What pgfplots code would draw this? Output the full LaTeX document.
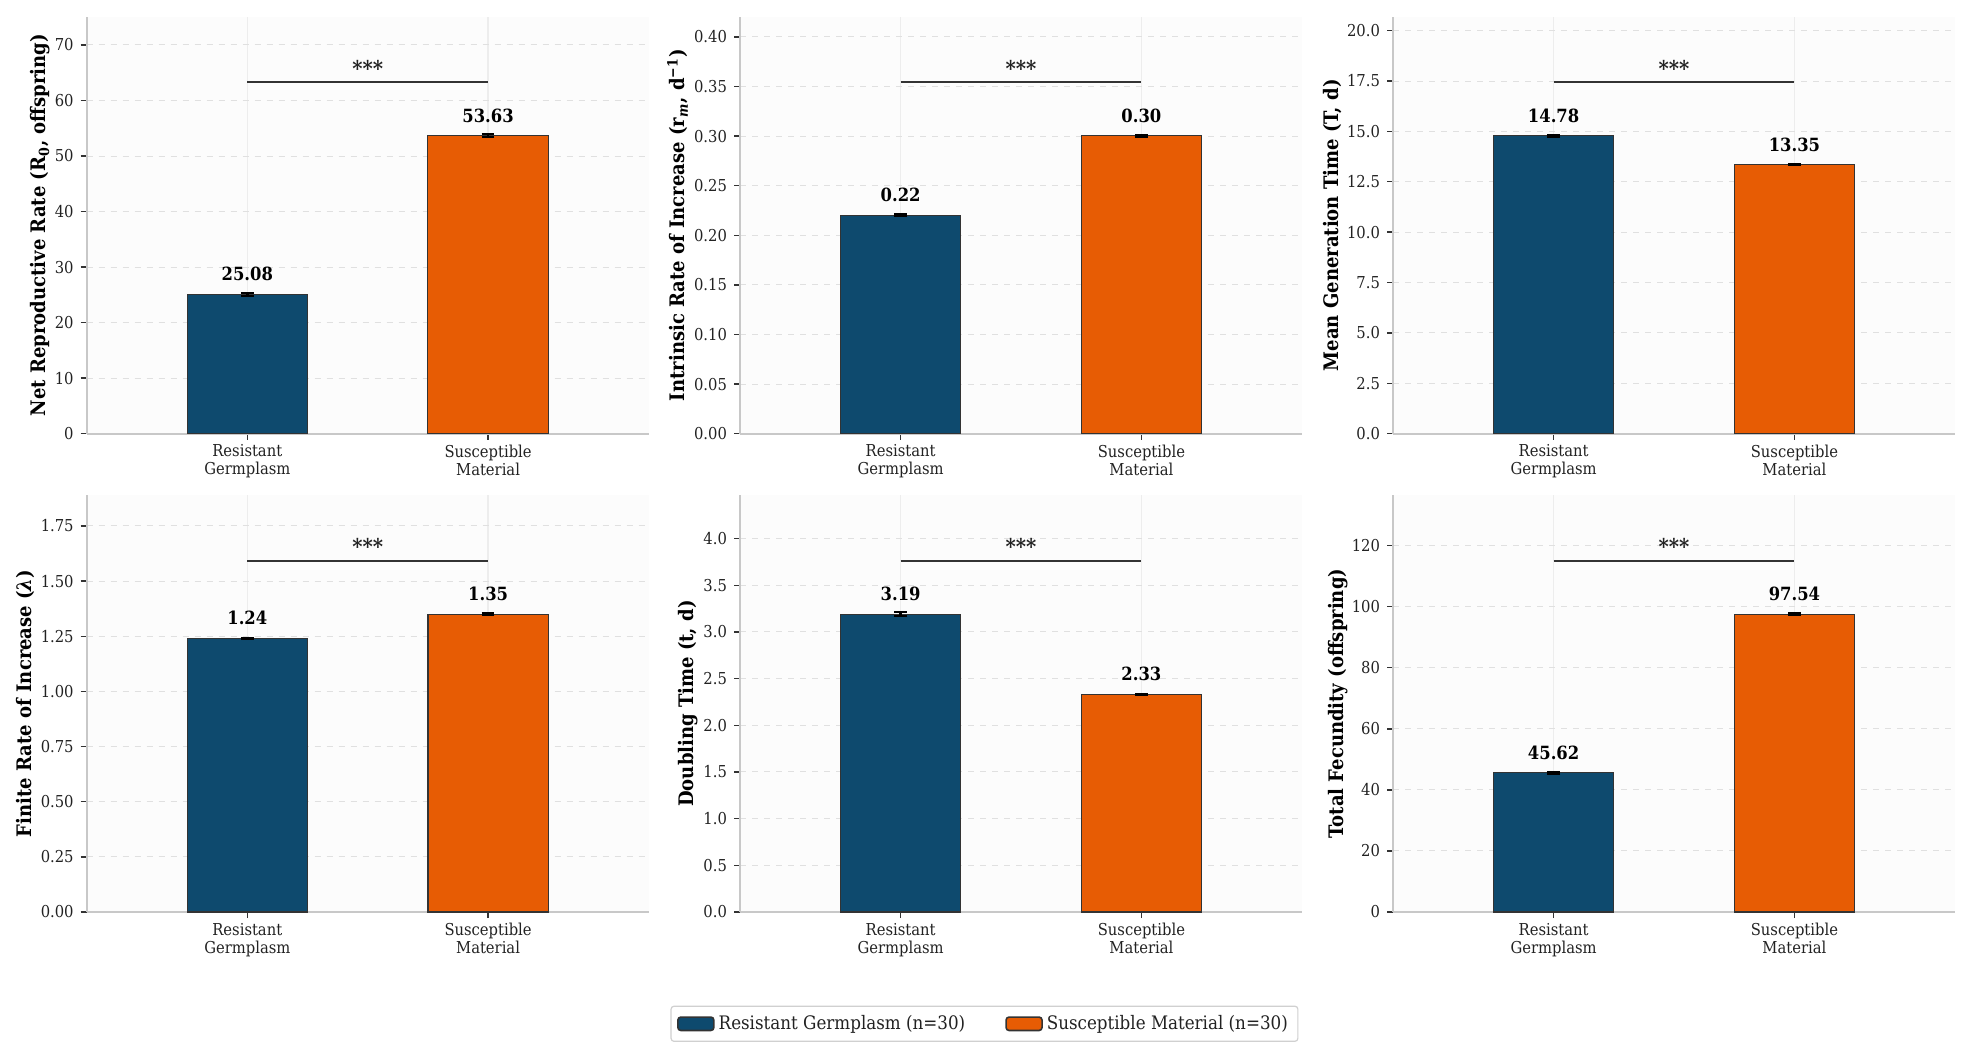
\documentclass[border=0pt]{standalone}
\usepackage{fontspec}
\setmainfont{DejaVu Serif Condensed}
\usepackage{pgfplots}
\pgfplotsset{compat=1.18}

\definecolor{cblue}{HTML}{0E4A6E}
\definecolor{corange}{HTML}{E75C04}
\definecolor{edgec}{HTML}{333333}
\definecolor{spine}{HTML}{C8C8C8}
\definecolor{tickc}{HTML}{333333}
\definecolor{gridc}{HTML}{E0E0E0}
\definecolor{gridx}{HTML}{EDEDED}
\definecolor{bgc}{HTML}{FCFCFC}
\definecolor{txt}{HTML}{222222}
\definecolor{sigc}{HTML}{333333}
\definecolor{legc}{HTML}{D0D0D0}

\newcommand\tickfont{\fontsize{8.2}{9}\selectfont}
\newcommand\labfont{\bfseries\fontsize{10}{12}\selectfont}
\newcommand\valfont{\bfseries\fontsize{9.1}{10.5}\selectfont}
\newcommand\starfont{\bfseries\fontsize{10.9}{12}\selectfont}
\newcommand\legfont{\fontsize{9.3}{10.5}\selectfont}

\pgfkeys{/pgf/number format/assume math mode=true}

\pgfplotsset{
  panel/.style={
    width=281pt, height=208.5pt, scale only axis,
    anchor=north west,
    xmin=-0.667, xmax=1.667, ymin=0,
    axis x line*=bottom, axis y line*=left,
    axis line style={draw=spine, line width=0.9pt},
    tick align=outside, major tick length=3pt,
    tick style={draw=tickc, line width=0.7pt},
    xtick={0,1},
    xticklabels={{Resistant\\Germplasm},{Susceptible\\Material}},
    xticklabel style={align=center, font=\tickfont, text=txt, yshift=1pt},
    yticklabel style={font=\tickfont, text=txt},
    ymajorgrids, xmajorgrids,
    y grid style={dashed, draw=gridc, line width=0.5pt},
    x grid style={draw=gridx, line width=0.6pt},
    axis background/.style={fill=bgc},
    clip=false,
    /pgf/number format/assume math mode=true,
    nodes near coords,
    every node near coord/.append style={anchor=base, yshift=6.8pt, font=\valfont, text=black},
  },
  barR/.style={ybar, bar shift=0pt, bar width=0.5, fill=cblue, draw=edgec, line width=0.6pt,
    error bars/.cd, y dir=both, y explicit,
    error bar style={black, line width=1.4pt},
    error mark options={rotate=90, mark size=3.2pt, line width=1pt, black}},
  barS/.style={ybar, bar shift=0pt, bar width=0.5, fill=corange, draw=edgec, line width=0.6pt,
    error bars/.cd, y dir=both, y explicit,
    error bar style={black, line width=1.4pt},
    error mark options={rotate=90, mark size=3.2pt, line width=1pt, black}},
}

\newcommand\sig[1]{%
  \draw[sigc, line width=1pt] (axis cs:0,#1) -- (axis cs:1,#1);
  \node[anchor=base, yshift=2.9pt, font=\starfont, text=txt, inner sep=0pt] at (axis cs:0.5,#1) {***};
}

\begin{document}
\begin{tikzpicture}
\useasboundingbox (0,0) rectangle (984.5pt,-528pt);

% Panel 1
\begin{axis}[panel, at={(43.35pt,-8.35pt)}, ymax=75.08, ytick={0,10,...,70},
  ylabel={Net Reproductive Rate (R\textsubscript{0}, offspring)},
  ylabel style={at={(axis description cs:-0.0828,0.5)}, anchor=center, font=\labfont, text=black},
  nodes near coords style={/pgf/number format/.cd, fixed, fixed zerofill, precision=2}]
\addplot[barR] coordinates {(0,25.08) +- (0,0.2)};
\addplot[barS] coordinates {(1,53.63) +- (0,0.25)};
\sig{63.28}
\end{axis}

% Panel 2
\begin{axis}[panel, at={(370pt,-8.35pt)}, ymax=0.4204, ytick={0,0.05,...,0.41},
  yticklabel style={/pgf/number format/.cd, fixed, fixed zerofill, precision=2},
  ylabel={Intrinsic Rate of Increase (r\textsubscript{\textit{m}}, d\textsuperscript{−1})},
  ylabel style={at={(axis description cs:-0.111,0.5)}, anchor=center, font=\labfont, text=black},
  nodes near coords style={/pgf/number format/.cd, fixed, fixed zerofill, precision=2}]
\addplot[barR] coordinates {(0,0.2202) +- (0,0.001)};
\addplot[barS] coordinates {(1,0.3003) +- (0,0.001)};
\sig{0.3544}
\end{axis}

% Panel 3
\begin{axis}[panel, at={(696.5pt,-8.35pt)}, ymax=20.69, ytick={0,2.5,...,20.1},
  yticklabel style={/pgf/number format/.cd, fixed, fixed zerofill, precision=1},
  ylabel={Mean Generation Time (T, d)},
  ylabel style={at={(axis description cs:-0.108,0.5)}, anchor=center, font=\labfont, text=black},
  nodes near coords style={/pgf/number format/.cd, fixed, fixed zerofill, precision=2}]
\addplot[barR] coordinates {(0,14.78) +- (0,0.05)};
\addplot[barS] coordinates {(1,13.35) +- (0,0.04)};
\sig{17.44}
\end{axis}

% Panel 4
\begin{axis}[panel, at={(43.35pt,-247.5pt)}, ymax=1.89, ytick={0,0.25,...,1.76},
  yticklabel style={/pgf/number format/.cd, fixed, fixed zerofill, precision=2},
  ylabel={Finite Rate of Increase (\textit{λ})},
  ylabel style={at={(axis description cs:-0.109,0.5)}, anchor=center, font=\labfont, text=black},
  nodes near coords style={/pgf/number format/.cd, fixed, fixed zerofill, precision=2}]
\addplot[barR] coordinates {(0,1.24) +- (0,0.003)};
\addplot[barS] coordinates {(1,1.35) +- (0,0.003)};
\sig{1.593}
\end{axis}

% Panel 5
\begin{axis}[panel, at={(370pt,-247.5pt)}, ymax=4.466, ytick={0,0.5,...,4.01},
  yticklabel style={/pgf/number format/.cd, fixed, fixed zerofill, precision=1},
  ylabel={Doubling Time (t, d)},
  ylabel style={at={(axis description cs:-0.0925,0.5)}, anchor=center, font=\labfont, text=black},
  nodes near coords style={/pgf/number format/.cd, fixed, fixed zerofill, precision=2},
  legend columns=2,
  legend style={at={(0.435,-0.268)}, anchor=center, draw=legc, line width=0.6pt,
    rounded corners=1.5pt, fill=white, font=\legfont, text=txt,
    inner xsep=3pt, inner ysep=2.5pt,
    /tikz/every even column/.append style={column sep=18pt}},
  legend cell align=left]
\addlegendimage{legend image code/.code={\draw[fill=cblue, draw=edgec, line width=0.8pt] (0pt,-3.35pt) rectangle (18pt,3.35pt);}}
\addlegendentry{Resistant Germplasm (n=30)}
\addlegendimage{legend image code/.code={\draw[fill=corange, draw=edgec, line width=0.8pt] (0pt,-3.35pt) rectangle (18pt,3.35pt);}}
\addlegendentry{Susceptible Material (n=30)}
\addplot[forget plot, barR] coordinates {(0,3.19) +- (0,0.02)};
\addplot[forget plot, barS] coordinates {(1,2.33) +- (0,0.01)};
\sig{3.764}
\end{axis}

% Panel 6
\begin{axis}[panel, at={(696.5pt,-247.5pt)}, ymax=136.56, ytick={0,20,...,120},
  ylabel={Total Fecundity (offspring)},
  ylabel style={at={(axis description cs:-0.0985,0.5)}, anchor=center, font=\labfont, text=black},
  nodes near coords style={/pgf/number format/.cd, fixed, fixed zerofill, precision=2}]
\addplot[barR] coordinates {(0,45.62) +- (0,0.3)};
\addplot[barS] coordinates {(1,97.54) +- (0,0.4)};
\sig{115.1}
\end{axis}
\end{tikzpicture}
\end{document}
